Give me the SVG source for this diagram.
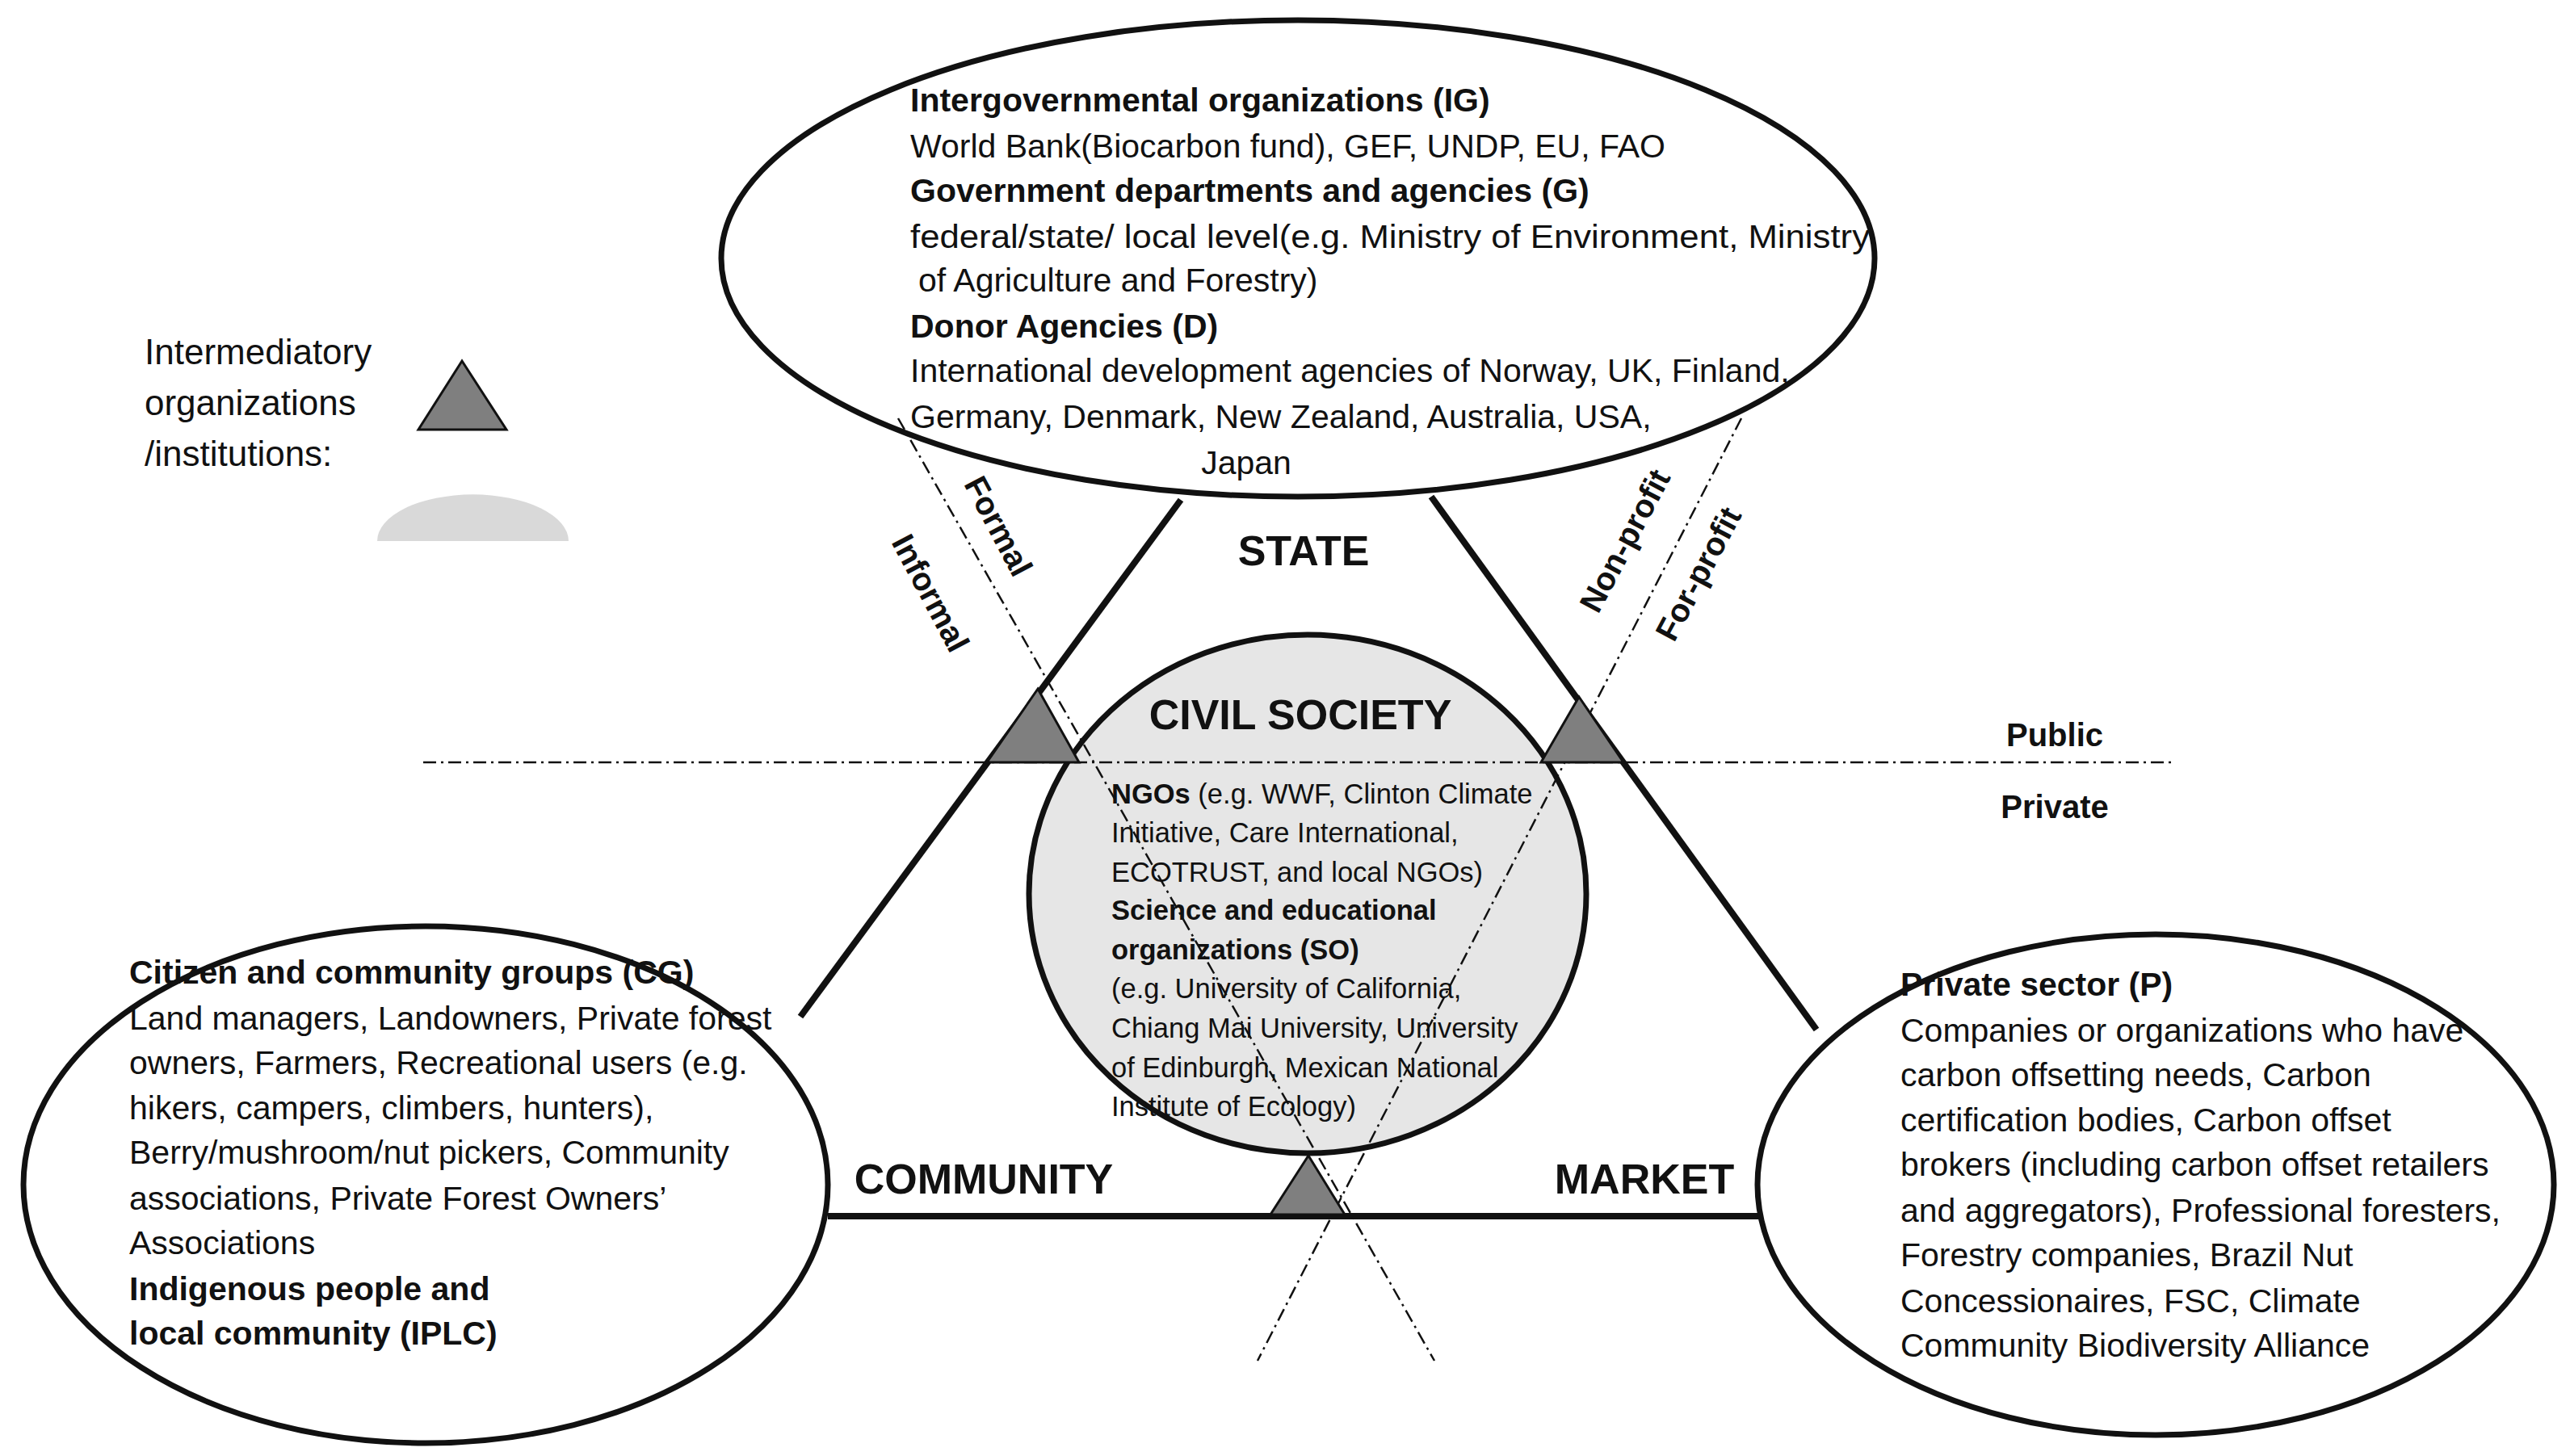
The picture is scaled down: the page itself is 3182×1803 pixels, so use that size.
<svg xmlns="http://www.w3.org/2000/svg" width="3182" height="1803" viewBox="0 0 3182 1803">
<style>
text{font-family:"Liberation Sans",Arial,sans-serif;fill:#111}
.t{font-size:41px}.b{font-weight:bold}
.c{font-size:34.5px}
.big{font-size:52px;font-weight:bold;text-anchor:middle}
.lab{font-size:40px;font-weight:bold;text-anchor:middle}
.ln{stroke:#111;stroke-width:8;fill:none}
.dd{stroke:#111;stroke-width:2.5;fill:none;stroke-dasharray:16 6 3 6}
.tri{fill:#7f7f7f;stroke:#111;stroke-width:3}
.ell{fill:#fff;stroke:#111;stroke-width:7}
</style>
<rect width="3182" height="1803" fill="#fff"/>
<g id="connectors">
<line class="ln" x1="1462" y1="619" x2="991" y2="1259"/>
<line class="ln" x1="1772" y1="615" x2="2249" y2="1275"/>
<line class="ln" x1="1025" y1="1506" x2="2188" y2="1506"/>
</g>
<g id="top"><ellipse class="ell" cx="1607" cy="320" rx="714" ry="295"/>
<text class="t b" x="1127" y="138">Intergovernmental organizations (IG)</text>
<text class="t" x="1127" y="195">World Bank(Biocarbon fund), GEF, UNDP, EU, FAO</text>
<text class="t b" x="1127" y="250">Government departments and agencies (G)</text>
<text class="t" x="1127" y="307" textLength="1188" lengthAdjust="spacingAndGlyphs">federal/state/ local level(e.g. Ministry of Environment, Ministry</text>
<text class="t" x="1137" y="361">of Agriculture and Forestry)</text>
<text class="t b" x="1127" y="418">Donor Agencies (D)</text>
<text class="t" x="1127" y="473">International development agencies of Norway, UK, Finland,</text>
<text class="t" x="1127" y="530">Germany, Denmark, New Zealand, Australia, USA,</text>
<text class="t" x="1543" y="587" text-anchor="middle">Japan</text>
</g>
<g id="civil"><ellipse cx="1619" cy="1107" rx="345" ry="321" fill="#e6e6e6" stroke="#111" stroke-width="7"/>
<text class="big" x="1610" y="903" font-size="56">CIVIL SOCIETY</text>
<text class="c" x="1376" y="995"><tspan class="b">NGOs</tspan> (e.g. WWF, Clinton Climate</text>
<text class="c" x="1376" y="1043">Initiative,  Care International,</text>
<text class="c" x="1376" y="1092">ECOTRUST, and local NGOs)</text>
<text class="c b" x="1376" y="1139">Science and educational</text>
<text class="c b" x="1376" y="1188">organizations (SO)</text>
<text class="c" x="1376" y="1236">(e.g. University of California,</text>
<text class="c" x="1376" y="1285">Chiang Mai University, University</text>
<text class="c" x="1376" y="1334">of Edinburgh, Mexican National</text>
<text class="c" x="1376" y="1382">Institute of Ecology)</text>
</g>
<g id="left"><ellipse class="ell" cx="527" cy="1467" rx="498" ry="320"/>
<text class="t b" x="160" y="1218">Citizen and community groups (CG)</text>
<text class="t" x="160" y="1275">Land managers, Landowners, Private forest</text>
<text class="t" x="160" y="1330">owners, Farmers, Recreational users (e.g.</text>
<text class="t" x="160" y="1386">hikers, campers, climbers, hunters),</text>
<text class="t" x="160" y="1441">Berry/mushroom/nut pickers, Community</text>
<text class="t" x="160" y="1498">associations, Private Forest Owners’</text>
<text class="t" x="160" y="1553">Associations</text>
<text class="t b" x="160" y="1610">Indigenous people and</text>
<text class="t b" x="160" y="1665">local community (IPLC)</text>
</g>
<g id="right"><ellipse class="ell" cx="2669" cy="1467" rx="493" ry="310"/>
<text class="t b" x="2353" y="1233">Private sector (P)</text>
<text class="t" x="2353" y="1290">Companies or organizations who have</text>
<text class="t" x="2353" y="1345">carbon offsetting needs, Carbon</text>
<text class="t" x="2353" y="1401">certification bodies, Carbon offset</text>
<text class="t" x="2353" y="1456">brokers (including carbon offset retailers</text>
<text class="t" x="2353" y="1513">and aggregators), Professional foresters,</text>
<text class="t" x="2353" y="1568">Forestry companies, Brazil Nut</text>
<text class="t" x="2353" y="1625">Concessionaires, FSC, Climate</text>
<text class="t" x="2353" y="1680">Community Biodiversity Alliance</text>
</g>
<g id="dividers">
<line class="dd" x1="524" y1="944" x2="2690" y2="944"/>
<line class="dd" x1="1112" y1="518" x2="1776" y2="1685"/>
<line class="dd" x1="2156" y1="518" x2="1557" y2="1685"/>
</g>
<g id="intermediaries">
<polygon class="tri" points="1285,853 1222,944 1336,944"/>
<polygon class="tri" points="1955,863 1908,944 2010,944"/>
<polygon class="tri" points="1620,1431 1573,1504 1665,1504"/>
</g>
<g id="labels">
<text class="big" x="1614" y="700">STATE</text>
<text class="big" x="1218" y="1478">COMMUNITY</text>
<text class="big" x="2036" y="1478">MARKET</text>
<text class="lab" x="2544" y="924">Public</text>
<text class="lab" x="2544" y="1013">Private</text>
<text class="lab" transform="translate(1224,658) rotate(62)">Formal</text>
<text class="lab" transform="translate(1140,741) rotate(62)">Informal</text>
<text class="lab" transform="translate(2024,676) rotate(-62)">Non-profit</text>
<text class="lab" transform="translate(2115,717) rotate(-62)">For-profit</text>
</g>
<g id="legend">
<text x="179" y="451" font-size="44">Intermediatory</text>
<text x="179" y="514" font-size="44">organizations</text>
<text x="179" y="577" font-size="44">/institutions:</text>
<polygon class="tri" points="572,447 518,532 627,532"/>
<path d="M467 670 A117 57 0 0 1 704 670 Z" fill="#d9d9d9"/>
</g>
</svg>
